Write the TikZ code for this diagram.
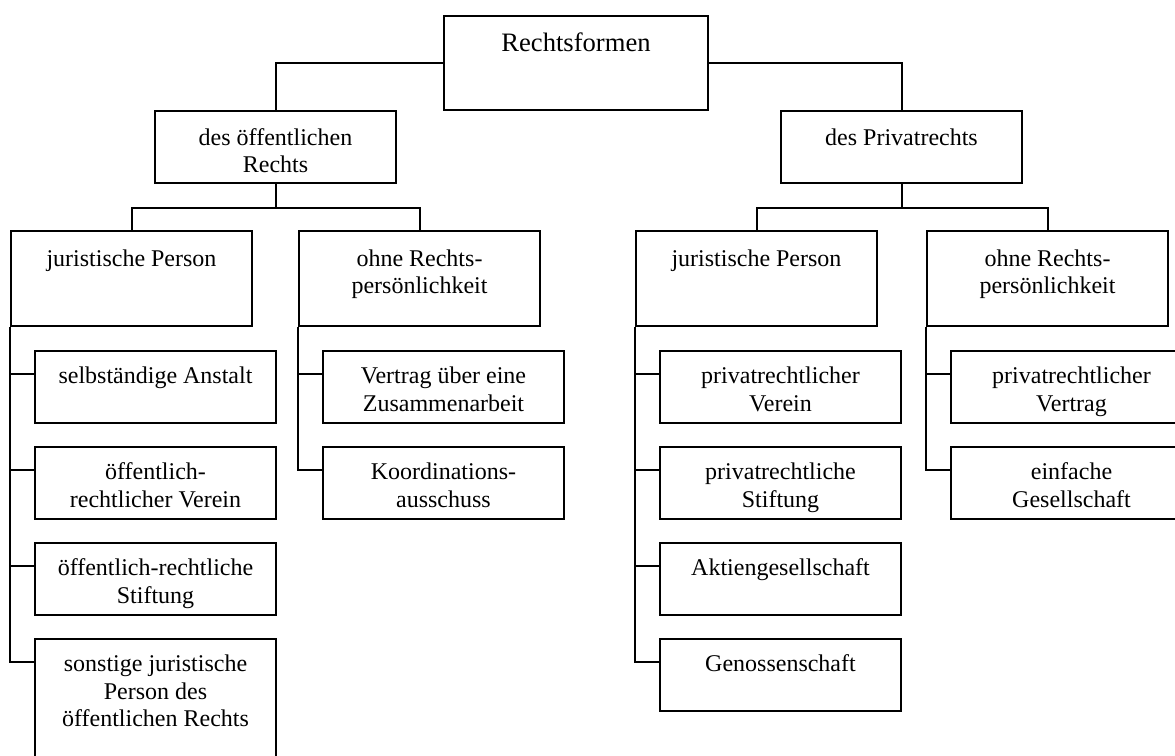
\documentclass[tikz,border=0pt]{standalone}
\usepackage{fontspec}
\setmainfont{Liberation Serif}
\tikzset{
  formbox/.style n args={3}{draw,inner sep=0pt,anchor=north west,
    execute at begin node={\begin{minipage}[c][#2][t]{#1}\fontsize{12pt}{13.6pt}\selectfont\centering\rule{0pt}{#3}},
    execute at end node={\end{minipage}}},
  rootbox/.style={formbox={132pt}{47pt}{17.6pt}},
  topbox/.style={formbox={120.5pt}{36pt}{17pt}},
  midbox/.style={formbox={120.5pt}{47.5pt}{17.5pt}},
  leafbox/.style={formbox={120.5pt}{36pt}{16.4pt}},
  longleaf/.style={formbox={120.5pt}{60pt}{16.4pt}},
}
\begin{document}
\begin{tikzpicture}[x=0.5pt,y=-0.5pt,line width=1pt]
\clip(0,0) rectangle (1175,756);
\node[rootbox](root) at (443,15) {\fontsize{13.3pt}{15pt}\selectfont Rechtsformen};
\node[topbox](publ) at (154,110) {des öffentlichen\\Rechts};
\node[topbox](priv) at (780,110) {des Privatrechts};
\node[midbox](pjur) at (10,230) {juristische Person};
\node[midbox](pohne) at (298,230) {ohne Rechts-\\persönlichkeit};
\node[midbox](rjur) at (635,230) {juristische Person};
\node[midbox](rohne) at (926,230) {ohne Rechts-\\persönlichkeit};
\node[leafbox](pj1) at (34,350) {selbständige Anstalt};
\node[leafbox](pj2) at (34,446) {öffentlich-\\rechtlicher Verein};
\node[leafbox](pj3) at (34,542) {öffentlich-rechtliche\\Stiftung};
\node[longleaf](pj4) at (34,638) {sonstige juristische\\Person des\\öffentlichen Rechts};
\node[leafbox](po1) at (322,350) {Vertrag über eine\\Zusammenarbeit};
\node[leafbox](po2) at (322,446) {Koordinations-\\ausschuss};
\node[leafbox](rj1) at (659,350) {privatrechtlicher\\Verein};
\node[leafbox](rj2) at (659,446) {privatrechtliche\\Stiftung};
\node[leafbox](rj3) at (659,542) {Aktiengesellschaft};
\node[leafbox](rj4) at (659,638) {Genossenschaft};
\node[leafbox](ro1) at (950,350) {privatrechtlicher\\Vertrag};
\node[leafbox](ro2) at (950,446) {einfache\\Gesellschaft};
\draw(root.west)-|(publ.north);
\draw(root.east)-|(priv.north);
\draw(publ.south)--++(0,-12pt)coordinate(pfork);
\draw(pjur.north)|-(pfork)-|(pohne.north);
\draw(priv.south)--++(0,-12pt)coordinate(rfork);
\draw(rjur.north)|-(rfork)-|(rohne.north);
\draw(pjur.south west)|-([yshift=-12pt]pj4.north west);
\draw(pohne.south west)|-([yshift=-12pt]po2.north west);
\draw(rjur.south west)|-([yshift=-12pt]rj4.north west);
\draw(rohne.south west)|-([yshift=-12pt]ro2.north west);
\foreach \n in {pj1,pj2,pj3,po1,rj1,rj2,rj3,ro1}
  \draw([yshift=-12pt]\n.north west)--++(-12pt,0);
\end{tikzpicture}
\end{document}
